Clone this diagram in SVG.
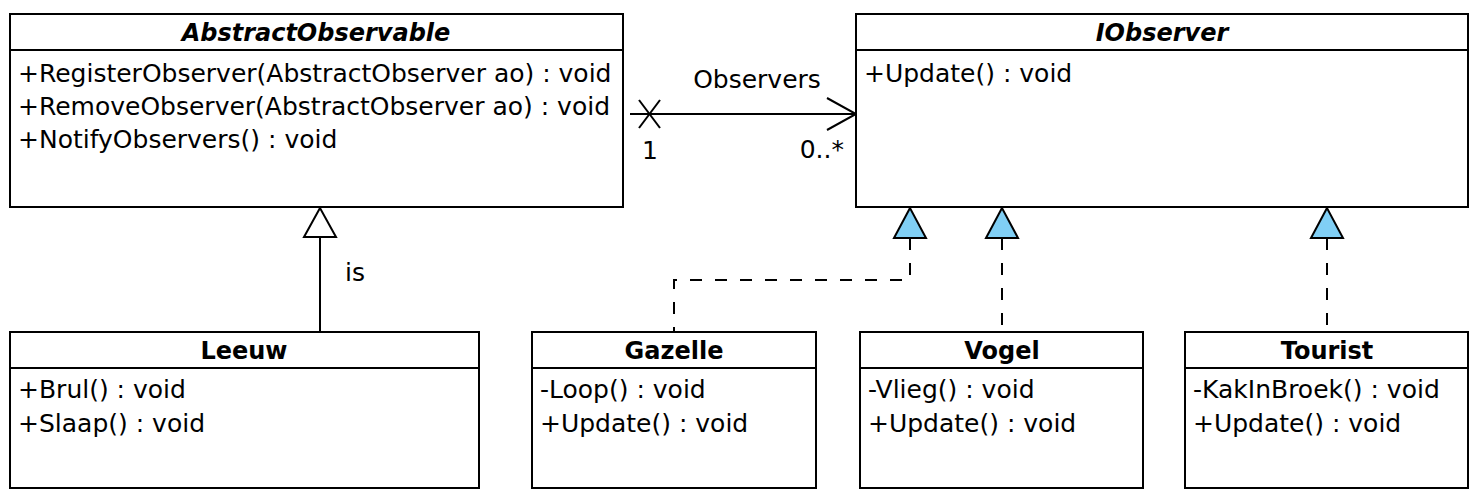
<svg xmlns="http://www.w3.org/2000/svg" width="1482" height="502" viewBox="0 0 1482 502">
<defs>
<style>
.box{fill:#fff;stroke:#000;stroke-width:2}
.div{stroke:#000;stroke-width:2}
.t{font-family:"DejaVu Sans",Verdana,sans-serif;font-size:25px;fill:#000}
.h{font-family:"DejaVu Sans",Verdana,sans-serif;font-size:24px;font-weight:bold;fill:#000;text-anchor:middle}
.hi{font-style:italic}
.ln{fill:none;stroke:#000;stroke-width:2}
.dash{fill:none;stroke:#000;stroke-width:2;stroke-dasharray:12 13}
.real{fill:#80cff5;stroke:#000;stroke-width:2;stroke-linejoin:miter}
.gen{fill:#fff;stroke:#000;stroke-width:2}
</style>
</defs>
<rect width="1482" height="502" fill="#fff"/>
<g id="connectors">
<line class="ln" x1="630" y1="114" x2="856" y2="114"/>
<line class="ln" x1="639" y1="100" x2="660" y2="128"/>
<line class="ln" x1="639" y1="128" x2="660" y2="100"/>
<polyline class="ln" points="827,98 856,114 827,130"/>
<text class="t" x="757" y="88" text-anchor="middle">Observers</text>
<text class="t" x="650" y="159" text-anchor="middle">1</text>
<text class="t" x="844" y="158" text-anchor="end">0..*</text>
<line class="ln" x1="320" y1="237" x2="320" y2="332"/>
<polygon class="gen" points="320,208 304,237 336,237"/>
<text class="t" x="345" y="281">is</text>
<polyline class="dash" points="910,238 910,280 674,280 674,332"/>
<polygon class="real" points="910,208 894,238 926,238"/>
<line class="dash" x1="1002" y1="238" x2="1002" y2="332"/>
<polygon class="real" points="1002,208 986,238 1018,238"/>
<line class="dash" x1="1327" y1="238" x2="1327" y2="332"/>
<polygon class="real" points="1327,208 1311,238 1343,238"/>
</g>
<g id="AbstractObservable">
<rect class="box" x="10" y="14" width="613" height="193"/>
<line class="div" x1="10" y1="50" x2="623" y2="50"/>
<text class="h hi" x="316" y="41">AbstractObservable</text>
<text class="t" x="18" y="82">+RegisterObserver(AbstractObserver ao) : void</text>
<text class="t" x="18" y="115">+RemoveObserver(AbstractObserver ao) : void</text>
<text class="t" x="18" y="148">+NotifyObservers() : void</text>
</g>
<g id="IObserver">
<rect class="box" x="856" y="14" width="612" height="193"/>
<line class="div" x1="856" y1="50" x2="1468" y2="50"/>
<text class="h hi" x="1162" y="41">IObserver</text>
<text class="t" x="864" y="82">+Update() : void</text>
</g>
<g id="Leeuw">
<rect class="box" x="10" y="332" width="469" height="156"/>
<line class="div" x1="10" y1="368" x2="479" y2="368"/>
<text class="h" x="244" y="359">Leeuw</text>
<text class="t" x="18" y="398">+Brul() : void</text>
<text class="t" x="18" y="432">+Slaap() : void</text>
</g>
<g id="Gazelle">
<rect class="box" x="532" y="332" width="284" height="156"/>
<line class="div" x1="532" y1="368" x2="816" y2="368"/>
<text class="h" x="674" y="359">Gazelle</text>
<text class="t" x="540" y="398">-Loop() : void</text>
<text class="t" x="540" y="432">+Update() : void</text>
</g>
<g id="Vogel">
<rect class="box" x="860" y="332" width="283" height="156"/>
<line class="div" x1="860" y1="368" x2="1143" y2="368"/>
<text class="h" x="1002" y="359">Vogel</text>
<text class="t" x="868" y="398">-Vlieg() : void</text>
<text class="t" x="868" y="432">+Update() : void</text>
</g>
<g id="Tourist">
<rect class="box" x="1185" y="332" width="283" height="156"/>
<line class="div" x1="1185" y1="368" x2="1468" y2="368"/>
<text class="h" x="1327" y="359">Tourist</text>
<text class="t" x="1193" y="398">-KakInBroek() : void</text>
<text class="t" x="1193" y="432">+Update() : void</text>
</g>
</svg>
